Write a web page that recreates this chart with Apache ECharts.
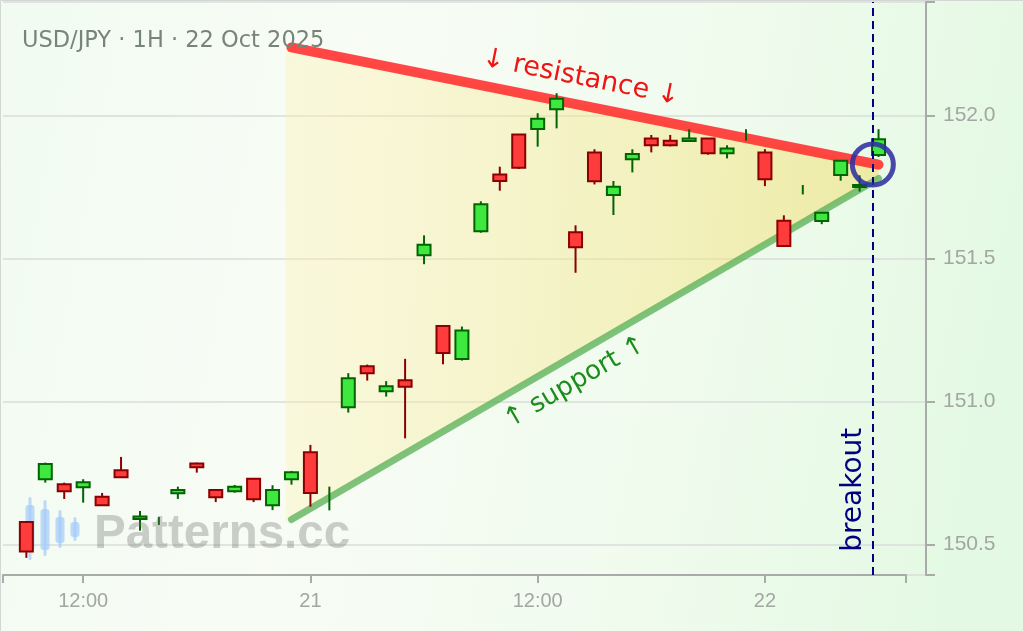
<!DOCTYPE html>
<html><head><meta charset="utf-8">
<script src="https://cdn.jsdelivr.net/npm/echarts@6/dist/echarts.min.js"></script>
<style>html,body{margin:0;padding:0;background:#f4fcf3}#c{width:1024px;height:632px}</style>
</head><body><div id="c"></div>
<script>
// ---------- data ----------
const title = 'USD/JPY · 1H · 22 Oct 2025';
const times = [
 '10-20 09:00','10-20 10:00','10-20 11:00','10-20 12:00','10-20 13:00','10-20 14:00','10-20 15:00','10-20 16:00',
 '10-20 17:00','10-20 18:00','10-20 19:00','10-20 20:00','10-20 21:00','10-20 22:00','10-20 23:00',
 '10-21 00:00','10-21 01:00','10-21 02:00','10-21 03:00','10-21 04:00','10-21 05:00','10-21 06:00','10-21 07:00',
 '10-21 08:00','10-21 09:00','10-21 10:00','10-21 11:00','10-21 12:00','10-21 13:00','10-21 14:00','10-21 15:00',
 '10-21 16:00','10-21 17:00','10-21 18:00','10-21 19:00','10-21 20:00','10-21 21:00','10-21 22:00','10-21 23:00',
 '10-22 00:00','10-22 01:00','10-22 02:00','10-22 03:00','10-22 04:00','10-22 05:00','10-22 06:00'];
const opens  = [150.578,150.728,150.710,150.700,150.667,150.759,150.589,150.585,150.679,150.783,150.690,150.686,150.730,150.637,150.728,
 150.822,150.650,150.980,151.123,151.036,151.074,151.511,151.264,151.148,151.595,151.794,151.934,151.953,152.022,151.592,151.871,
 151.722,151.847,151.920,151.912,151.911,151.920,151.868,151.930,151.871,151.632,151.740,151.631,151.792,151.750,151.862];
const closes = [150.475,150.781,150.686,150.717,150.637,150.735,150.598,150.585,150.690,150.770,150.665,150.702,150.658,150.690,150.752,
 150.680,150.650,151.081,151.099,151.053,151.051,151.548,151.169,151.248,151.690,151.771,151.817,151.989,152.059,151.539,151.770,
 151.751,151.865,151.896,151.896,151.920,151.868,151.885,151.930,151.777,151.544,151.740,151.660,151.842,151.757,151.917];
const lows   = [150.453,150.716,150.659,150.646,150.637,150.735,150.548,150.568,150.659,150.751,150.648,150.681,150.648,150.620,150.709,
 150.632,150.619,150.961,151.073,151.017,150.871,151.480,151.130,151.143,151.590,151.737,151.813,151.891,151.955,151.450,151.759,
 151.652,151.801,151.871,151.892,151.911,151.863,151.850,151.912,151.753,151.540,151.724,151.620,151.772,151.734,151.855];
const highs  = [150.580,150.786,150.716,150.728,150.680,150.806,150.617,150.596,150.702,150.786,150.690,150.708,150.730,150.707,150.757,
 150.848,150.702,151.099,151.129,151.071,151.149,151.581,151.264,151.262,151.700,151.821,151.934,152.008,152.078,151.616,151.882,
 151.771,151.882,151.932,151.932,151.952,151.920,151.896,151.952,151.882,151.651,151.757,151.660,151.842,151.791,151.952];

const xRange = ['10-20 07:46','10-22 07:27'];
const xTickTimes = ['10-20 12:00','10-21 00:00','10-21 12:00','10-22 00:00'];
const xTickLabels = ['12:00','21','12:00','22'];
const yRange = [150.393,152.397];
const yTicks = [150.5,151.0,151.5,152.0];

const resistanceTimes = ['10-20 23:00','10-22 06:00'];
const resistanceValues = [152.238,151.828];
const supportTimes = ['10-20 23:00','10-22 06:00'];
const supportValues = [150.587,151.780];
const zoneTimes = ['10-20 22:41','10-22 06:00'];
const zoneTop = [152.249,151.828];
const zoneBottom = [150.574,151.780];
const breakoutTime = '10-22 05:42';
const breakoutValue = 151.829;

const labelResistance = '↓ resistance ↓';
const labelSupport = '↑ support ↑';
const labelBreakout = 'breakout';
const labelResistanceAt = ['10-21 14:17', 152.132];
const labelSupportAt = ['10-21 13:58', 151.066];
const labelBreakoutAt = ['10-22 04:42', 150.691];

// ---------- helpers ----------
function toHours(s){const [md,hm]=s.split(' ');const day=+md.split('-')[1];const [hh,mm]=hm.split(':').map(Number);return (day-20)*24+hh+mm/60;}

const candleData = times.map((t,i)=>[toHours(t),opens[i],closes[i],lows[i],highs[i]]);
const xMin = toHours(xRange[0]), xMax = toHours(xRange[1]);
const xTicks = xTickTimes.map(toHours);
// plot area spans 3..926 px (grid lines reach the offset y axis); the drawn x axis spans 3..906 px
const AXIS_W = 903, PLOT_W = 923;
const xMaxPlot = xMin + (xMax - xMin) * PLOT_W / AXIS_W;

const AXIS = '#a9aba9', LBL = '#a3a6a3';
const chart = echarts.init(document.getElementById('c'), null, {renderer:'canvas'});

const option = {
  animation:false,
  backgroundColor:{type:'linear',x:0,y:0,x2:1,y2:0.3,colorStops:[
    {offset:0,color:'#f1fbf2'},{offset:0.35,color:'#f8fcf5'},{offset:0.7,color:'#f0fbee'},{offset:1,color:'#e4f9e3'}]},
  grid:[{left:3,right:98,top:2,bottom:57},{left:3,right:118,top:2,bottom:57}],
  xAxis:[
   {type:'value',gridIndex:0,min:xMin,max:xMaxPlot,show:true,
    axisLine:{show:false},axisTick:{show:false},axisLabel:{show:false},splitLine:{show:false}},
   {type:'value',gridIndex:1,min:xMin,max:xMax,
    axisLine:{show:true,lineStyle:{color:AXIS,width:2}},
    axisTick:{show:true,length:8,lineStyle:{color:AXIS,width:2},customValues:[xMin].concat(xTicks,[xMax])},
    axisLabel:{customValues:xTicks,color:LBL,fontSize:20,fontFamily:'Liberation Sans',margin:16,
      formatter:v=>{let best=0;xTicks.forEach((t,i)=>{if(Math.abs(t-v)<Math.abs(xTicks[best]-v))best=i;});return xTickLabels[best];}},
    splitLine:{show:false}}],
  yAxis:[
   {type:'value',gridIndex:0,position:'right',offset:0,min:yRange[0],max:yRange[1],
    axisLine:{show:true,lineStyle:{color:AXIS,width:2}},
    axisTick:{show:true,length:9,lineStyle:{color:AXIS,width:2},customValues:[yRange[0]].concat(yTicks,[yRange[1]])},
    axisLabel:{customValues:yTicks,color:LBL,fontSize:21,fontFamily:'Liberation Sans',margin:17,formatter:v=>v.toFixed(1)},
    splitLine:{show:true,lineStyle:{color:'#dadcda',width:1.5}}},
   {type:'value',gridIndex:1,min:yRange[0],max:yRange[1],show:false,splitLine:{show:false}}],
  series:[
    {type:'custom',name:'zone',z:1,silent:true,xAxisIndex:0,yAxisIndex:0,
     data:[[toHours(zoneTimes[0]),zoneTop[0],toHours(zoneTimes[1]),zoneTop[1],zoneBottom[1],zoneBottom[0]]],
     encode:{x:[0,2],y:[1,3,4,5]},
     renderItem:(params,api)=>{
       const t0=api.value(0),t1=api.value(2);
       const pts=[api.coord([t0,api.value(1)]),api.coord([t1,api.value(3)]),api.coord([t1,api.value(4)]),api.coord([t0,api.value(5)])];
       return {type:'polygon',shape:{points:pts},style:{fill:{type:'linear',x:0,y:0,x2:1,y2:0,colorStops:[
         {offset:0,color:'rgba(252,240,170,0.33)'},{offset:1,color:'rgba(240,222,110,0.55)'}]}}};
     }},
    {type:'line',name:'resistance',z:2,silent:true,showSymbol:false,symbol:'none',xAxisIndex:0,yAxisIndex:0,
     data:resistanceTimes.map((t,i)=>[toHours(t),resistanceValues[i]]),
     lineStyle:{color:'rgba(255,45,45,0.88)',width:10,cap:'round'}},
    {type:'line',name:'support',z:2,silent:true,showSymbol:false,symbol:'none',xAxisIndex:0,yAxisIndex:0,
     data:supportTimes.map((t,i)=>[toHours(t),supportValues[i]]),
     lineStyle:{color:'rgba(85,175,85,0.75)',width:7,cap:'round'}},
    {type:'custom',name:'USD/JPY',z:3,silent:true,xAxisIndex:0,yAxisIndex:0,data:candleData,encode:{x:0,y:[1,2,3,4]},
     renderItem:(params,api)=>{
       const x=api.value(0),o=api.value(1),c=api.value(2),l=api.value(3),h=api.value(4);
       const pH=api.coord([x,h]),pL=api.coord([x,l]),pO=api.coord([x,o]),pC=api.coord([x,c]);
       const up=c>=o, dark=up?'#006400':'#8b0000', fill=up?'#3ee83e':'#ff3c3c';
       const cx=pH[0];
       const ch=[{type:'line',shape:{x1:cx,y1:pH[1],x2:cx,y2:pL[1]},style:{stroke:dark,lineWidth:2}}];
       if(o!==c){const top=Math.min(pO[1],pC[1]),bh=Math.abs(pO[1]-pC[1]);
         ch.push({type:'rect',shape:{x:cx-6.5,y:top,width:13,height:bh},style:{fill:fill,stroke:dark,lineWidth:2}});}
       return {type:'group',children:ch};
     }},
    {type:'scatter',name:'breakoutCircle',z:6,silent:true,xAxisIndex:0,yAxisIndex:0,
     data:[[toHours(breakoutTime),breakoutValue]],symbol:'circle',symbolSize:41,
     itemStyle:{color:'rgba(0,0,0,0)',borderColor:'rgba(48,48,160,0.88)',borderWidth:5,opacity:1},
     markLine:{silent:true,symbol:'none',label:{show:false},
       lineStyle:{color:'#000080',width:2,type:[8,5],opacity:1},
       data:[{xAxis:toHours(breakoutTime)}]}}
  ]
};
chart.setOption(option);

const px = p => chart.convertToPixel({gridIndex:0}, p);
const r0=px([toHours(resistanceTimes[0]),resistanceValues[0]]), r1=px([toHours(resistanceTimes[1]),resistanceValues[1]]);
const s0=px([toHours(supportTimes[0]),supportValues[0]]), s1=px([toHours(supportTimes[1]),supportValues[1]]);
const rAng=-Math.atan2(r1[1]-r0[1],r1[0]-r0[0]);
const sAng=-Math.atan2(s1[1]-s0[1],s1[0]-s0[0]);
const pR=px([toHours(labelResistanceAt[0]),labelResistanceAt[1]]);
const pS=px([toHours(labelSupportAt[0]),labelSupportAt[1]]);
const pB=px([toHours(labelBreakoutAt[0]),labelBreakoutAt[1]]);

const LOGO='rgba(165,202,250,0.7)';
chart.setOption({graphic:[
  {type:'rect',z:100,silent:true,shape:{x:0.5,y:0.5,width:1023,height:631},style:{fill:'none',stroke:'#d3d7d3',lineWidth:1}},
  {type:'text',z:100,x:22,y:41,silent:true,style:{text:title,fill:'#778577',font:'22.5px "DejaVu Sans"',align:'left',verticalAlign:'middle'}},
  {type:'text',z:100,x:pR[0],y:pR[1],rotation:rAng,silent:true,style:{text:labelResistance,fill:'#ee1515',font:'27px "DejaVu Sans"',align:'center',verticalAlign:'middle'}},
  {type:'text',z:100,x:pS[0],y:pS[1],rotation:sAng,silent:true,style:{text:labelSupport,fill:'#1c8c1c',font:'26px "DejaVu Sans"',align:'center',verticalAlign:'middle'}},
  {type:'text',z:100,x:pB[0],y:pB[1],rotation:Math.PI/2,silent:true,style:{text:labelBreakout,fill:'#000080',font:'28px "DejaVu Sans"',align:'center',verticalAlign:'middle'}},
  // watermark logo (under the series) and text
  {type:'group',z:-1,zlevel:0,silent:true,children:[
    {type:'rect',shape:{x:28.5,y:497,width:3,height:63,r:1.5},style:{fill:LOGO}},
    {type:'rect',shape:{x:25.5,y:505,width:9,height:45,r:3},style:{fill:LOGO}},
    {type:'rect',shape:{x:43.5,y:500,width:3,height:56,r:1.5},style:{fill:LOGO}},
    {type:'rect',shape:{x:40.5,y:509,width:9,height:41,r:3},style:{fill:LOGO}},
    {type:'rect',shape:{x:58.5,y:510,width:3,height:38,r:1.5},style:{fill:LOGO}},
    {type:'rect',shape:{x:55.5,y:517,width:9,height:26,r:3},style:{fill:LOGO}},
    {type:'rect',shape:{x:73.5,y:517,width:3,height:24,r:1.5},style:{fill:LOGO}},
    {type:'rect',shape:{x:70.5,y:522,width:9,height:15,r:3},style:{fill:LOGO}}
  ]},
  {type:'text',z:90,x:94,y:535,silent:true,style:{text:'Patterns.cc',fill:'rgba(110,110,110,0.33)',font:'bold 47.5px "Liberation Sans"',align:'left',verticalAlign:'middle'}}
]});
</script></body></html>
